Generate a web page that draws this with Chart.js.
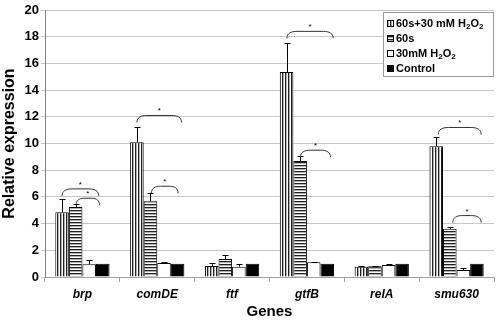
<!DOCTYPE html>
<html>
<head>
<meta charset="utf-8">
<script src="https://cdn.jsdelivr.net/npm/chart.js@4"></script>
<style>
  html, body { margin: 0; padding: 0; background: #fff; }
  #wrap { width: 500px; height: 321px; }
</style>
</head>
<body>
<div id="wrap"><canvas id="myChart" width="500" height="321"></canvas></div>
<script>
const genes = ['brp', 'comDE', 'ftf', 'gtfB', 'relA', 'smu630'];
const seriesNames = ['60s+30 mM H2O2', '60s', '30mM H2O2', 'Control'];

const combo    = [4.85, 10.1, 0.82, 15.35, 0.77, 9.8];
const comboErr = [0.97, 1.1, 0.25, 2.15, 0.02, 0.7];
const s60      = [5.24, 5.67, 1.35, 8.69, 0.8, 3.62];
const s60Err   = [0.23, 0.63, 0.27, 0.4, 0.02, 0.15];
const h2o2     = [0.95, 1.05, 0.77, 1.1, 0.9, 0.52];
const h2o2Err  = [0.32, 0.05, 0.23, 0.05, 0.07, 0.13];
const control    = [1, 1, 1, 1, 1, 1];
const controlErr = [0, 0, 0, 0, 0, 0];

const yTicks = [0, 2, 4, 6, 8, 10, 12, 14, 16, 18, 20];

// significance brackets: category, from/to bar slot (fractional), height
const bracketCat  = [0, 0, 1, 1, 3, 3, 5, 5];
const bracketFrom = [0.0, 1.03, 0.0, 1.07, 0.03, 1.02, 0.15, 1.22];
const bracketTo   = [2.7, 2.76, 3.29, 3.04, 3.44, 3.24, 3.31, 3.31];
const bracketY    = [6.6, 5.9, 12.1, 6.8, 18.4, 9.5, 11.2, 4.6];

const ctx = document.querySelector('#myChart').getContext('2d');

function stripes(vertical) {
    const c = document.createElement('canvas');
    c.width = 3; c.height = 3;
    const g = c.getContext('2d');
    g.fillStyle = '#ffffff';
    g.fillRect(0, 0, 3, 3);
    g.fillStyle = '#b0b0b0';
    if (vertical) g.fillRect(1, 0, 1, 3); else g.fillRect(0, 1, 3, 1);
    g.fillStyle = '#222222';
    if (vertical) g.fillRect(0, 0, 1, 3); else g.fillRect(0, 0, 3, 1);
    return ctx.createPattern(c, 'repeat');
}

const fills = [stripes(true), stripes(false), '#ffffff', '#000000'];
const values = [combo, s60, h2o2, control];
const errors = [comboErr, s60Err, h2o2Err, controlErr];

function drawChem(g, text, x, y, size) {
    // H2O2 gets subscript digits
    let cx = x;
    const parts = text.split(/(H2O2)/);
    parts.forEach(p => {
        if (p === 'H2O2') {
            [['H', false], ['2', true], ['O', false], ['2', true]].forEach(([s, sub]) => {
                g.font = 'bold ' + (sub ? size - 3 : size) + 'px "Liberation Sans", Arial';
                g.fillText(s, cx, sub ? y + 3 : y);
                cx += g.measureText(s).width;
            });
        } else {
            g.font = 'bold ' + size + 'px "Liberation Sans", Arial';
            g.fillText(p, cx, y);
            cx += g.measureText(p).width;
        }
    });
}

const extras = {
    id: 'extras',
    afterDatasetsDraw(chart) {
        const g = chart.ctx;
        const y = chart.scales.y;
        g.save();
        // error bars
        g.strokeStyle = '#000';
        g.lineWidth = 1;
        for (let d = 0; d < values.length; d++) {
            const meta = chart.getDatasetMeta(d);
            meta.data.forEach((bar, i) => {
                if (!errors[d][i]) return;
                const top = Math.round(y.getPixelForValue(values[d][i] + errors[d][i])) + 0.5;
                const x = Math.round(bar.x) + 0.5;
                g.beginPath();
                g.moveTo(x, bar.y);
                g.lineTo(x, top);
                g.moveTo(x - 3, top);
                g.lineTo(x + 3, top);
                g.stroke();
            });
        }
        // brackets
        const xs = chart.scales.x;
        const barW = chart.getDatasetMeta(0).data[0].width;
        g.strokeStyle = '#333';
        g.fillStyle = '#000';
        g.textAlign = 'center';
        g.font = '8px "Liberation Sans", Arial';
        for (let k = 0; k < bracketCat.length; k++) {
            const c = xs.getPixelForValue(bracketCat[k]);
            const x1 = c + (bracketFrom[k] - 1.5) * barW;
            const x2 = c + (bracketTo[k] - 1.5) * barW;
            const yt = y.getPixelForValue(bracketY[k]);
            const ye = yt + 7;
            const r = Math.min(10, (x2 - x1) / 3);
            g.beginPath();
            g.moveTo(x1, ye);
            g.bezierCurveTo(x1, yt + 2, x1 + r * 0.4, yt, x1 + r, yt);
            g.lineTo(x2 - r, yt);
            g.bezierCurveTo(x2 - r * 0.4, yt, x2, yt + 2, x2, ye);
            g.stroke();
            g.fillText('*', (x1 + x2) / 2, yt - 2);
        }
        // legend
        const lx = chart.chartArea.right - 111, ly = chart.chartArea.top + 2;
        g.fillStyle = '#fff';
        g.fillRect(lx, ly, 110, 64);
        g.strokeStyle = '#9a9a9a';
        g.strokeRect(lx + 0.5, ly + 0.5, 110, 64);
        g.textAlign = 'left';
        g.textBaseline = 'middle';
        for (let d = 0; d < seriesNames.length; d++) {
            const cy = ly + 12 + d * 15;
            g.fillStyle = fills[d];
            g.fillRect(lx + 4, cy - 4, 7, 7);
            g.strokeStyle = '#000';
            g.strokeRect(lx + 4.5, cy - 3.5, 6, 6);
            g.fillStyle = '#000';
            drawChem(g, seriesNames[d], lx + 13, cy, 11);
        }
        g.restore();
    }
};

const chart = new Chart(ctx, {
    type: 'bar',
    data: {
        labels: genes,
        datasets: seriesNames.map((name, d) => ({
            label: name,
            data: values[d],
            backgroundColor: fills[d],
            borderColor: '#000',
            borderWidth: 1,
            barPercentage: 1,
            categoryPercentage: 0.725
        }))
    },
    options: {
        responsive: false,
        animation: false,
        layout: { padding: { top: 10, right: 6, left: 0, bottom: 0 } },
        plugins: { legend: { display: false }, tooltip: { enabled: false } },
        scales: {
            x: {
                grid: { drawOnChartArea: false, drawTicks: true, tickLength: 5, color: '#a0a0a0', offset: true },
                border: { color: '#a0a0a0' },
                ticks: {
                    color: '#000',
                    padding: 5,
                    font: { family: '"Liberation Sans", Arial', size: 12, weight: 'bold', style: 'italic' }
                },
                title: {
                    display: true, text: 'Genes', color: '#000', padding: { top: 0, bottom: 0 },
                    font: { family: '"Liberation Sans", Arial', size: 15, weight: 'bold' }
                },
                afterFit(scale) { scale.height = 44; }
            },
            y: {
                min: 0, max: 20,
                afterBuildTicks(scale) { scale.ticks = yTicks.map(v => ({ value: v })); },
                grid: { color: '#c8c8c8', tickLength: 4 },
                border: { color: '#808080' },
                ticks: {
                    color: '#000',
                    padding: 2,
                    font: { family: '"Liberation Sans", Arial', size: 13, weight: 'bold' }
                },
                title: {
                    display: true, text: 'Relative expression', color: '#000', padding: { top: 0, bottom: 1 },
                    font: { family: '"Liberation Sans", Arial', size: 16, weight: 'bold' }
                },
                afterFit(scale) { scale.width = 45; }
            }
        }
    },
    plugins: [extras]
});
</script>
</body>
</html>
